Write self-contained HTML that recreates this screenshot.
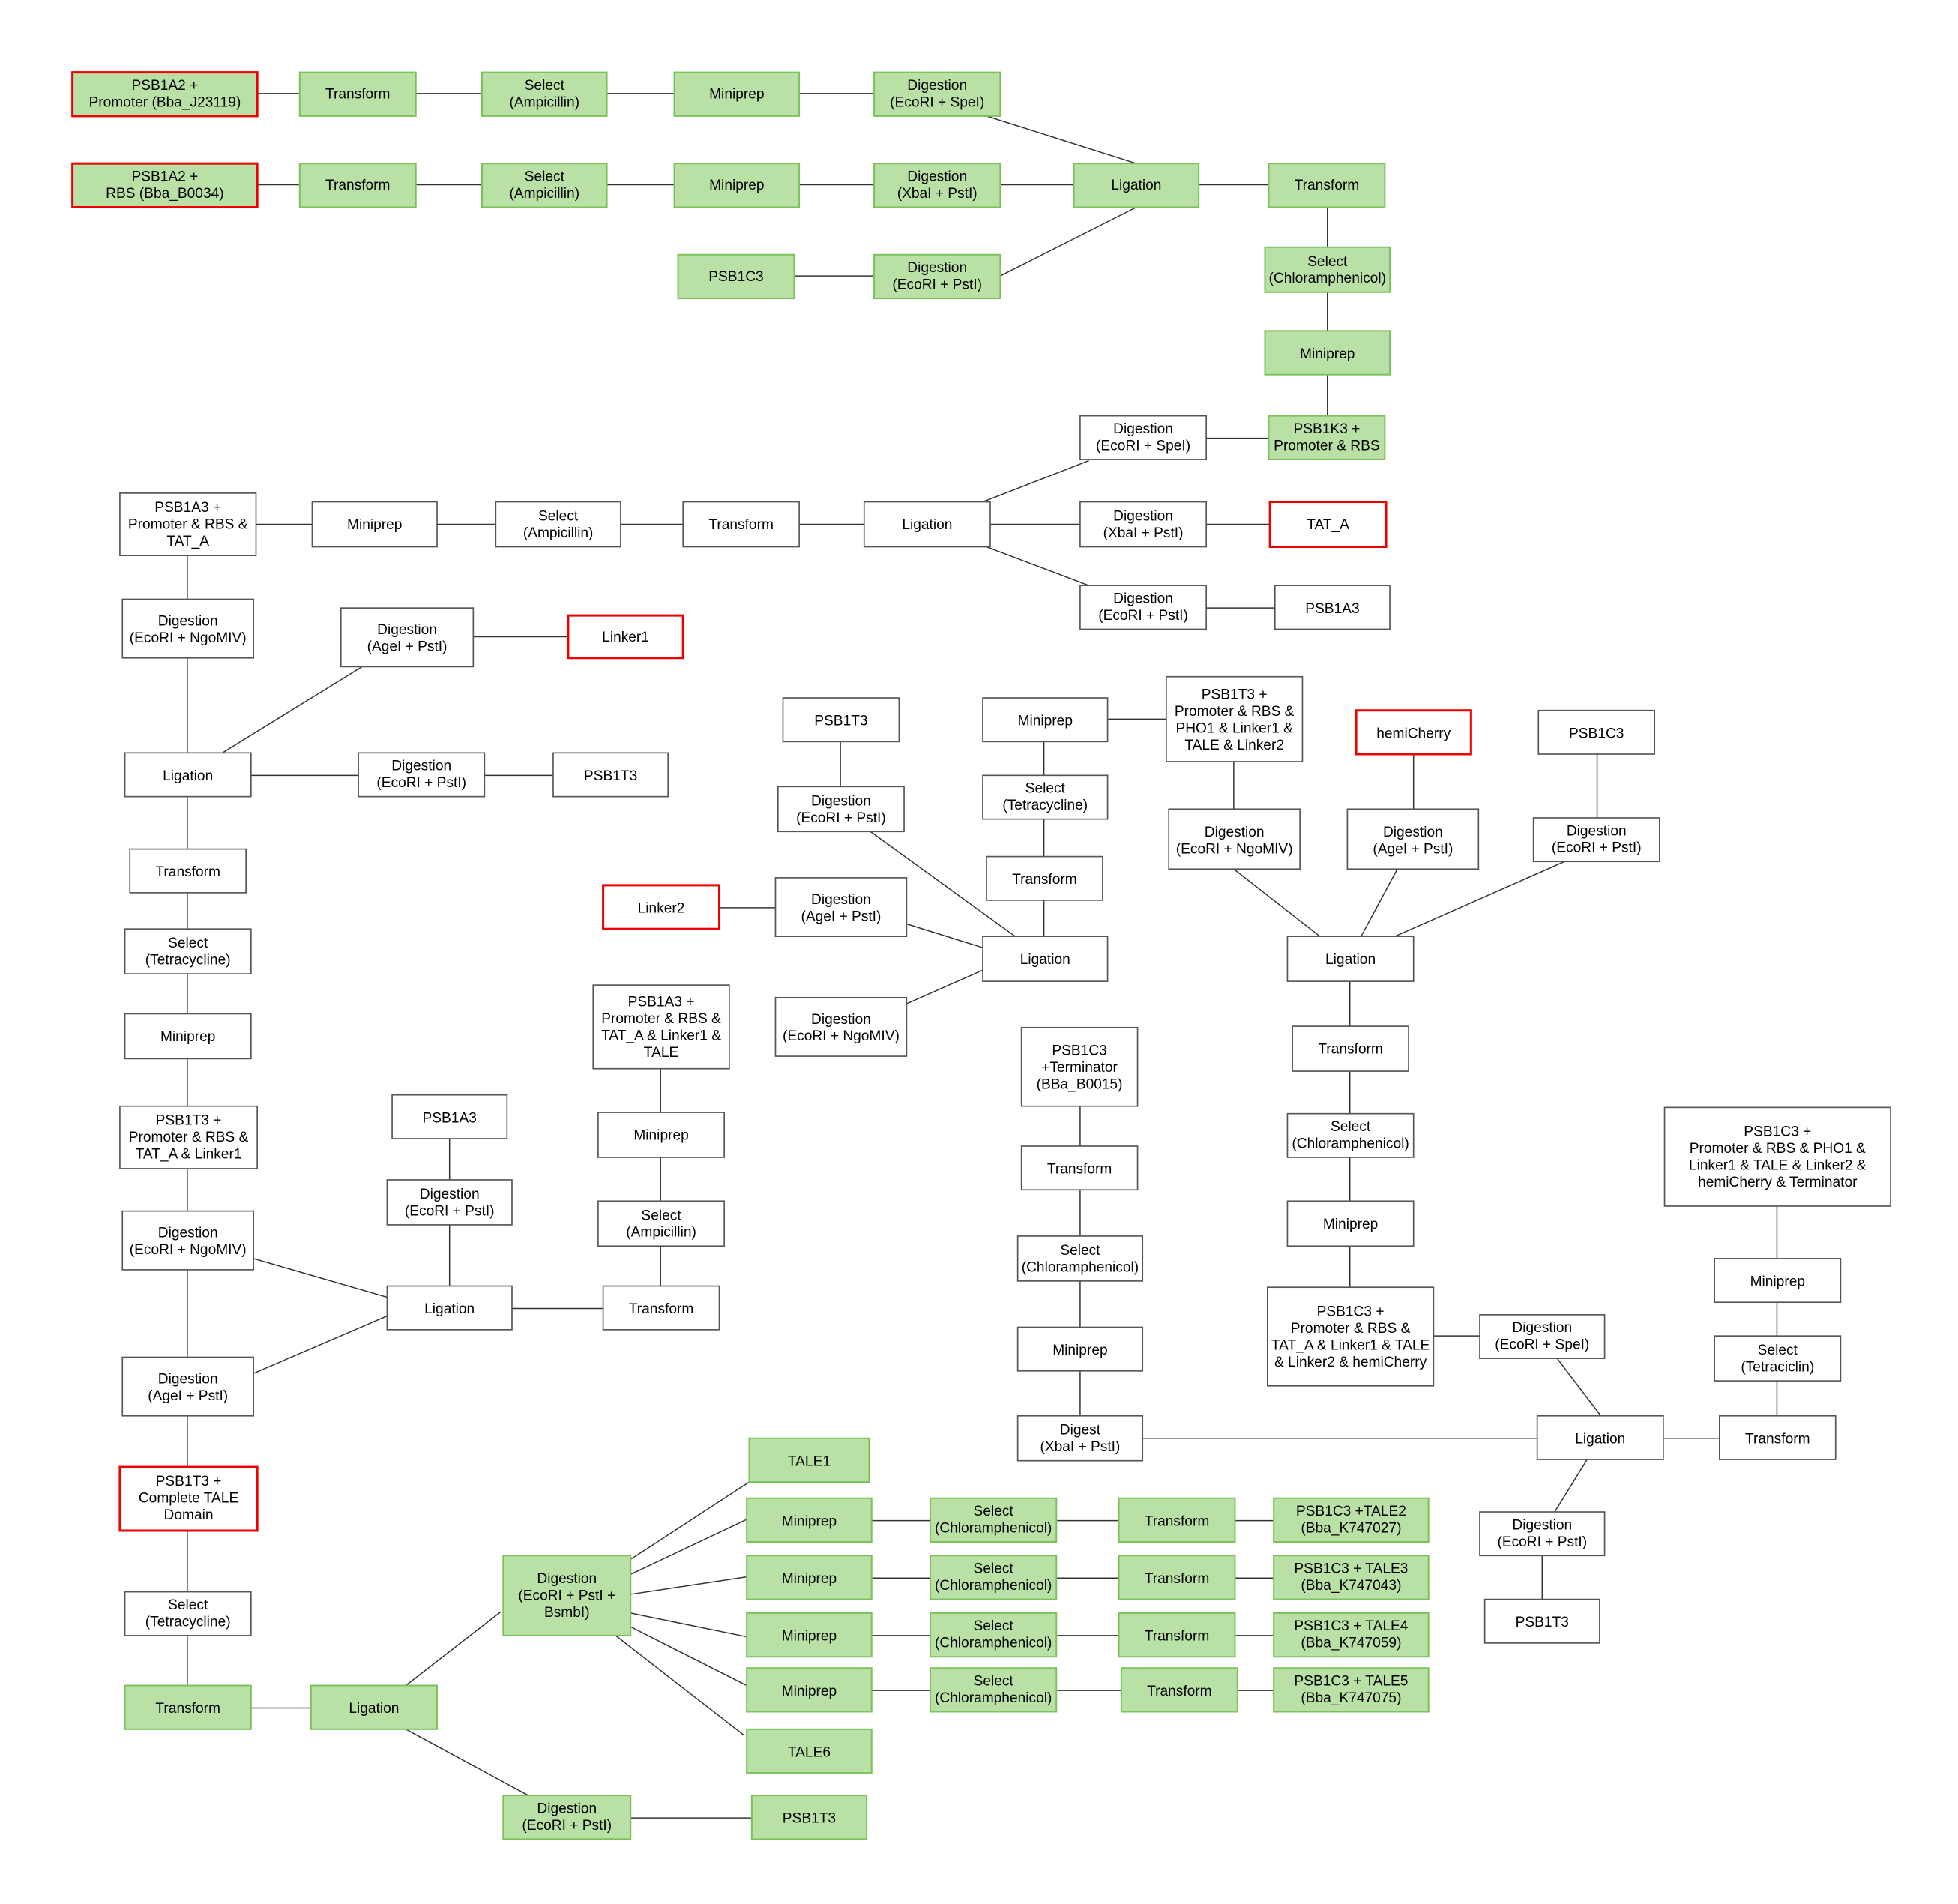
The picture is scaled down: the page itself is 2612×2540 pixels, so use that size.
<!DOCTYPE html>
<html><head><meta charset="utf-8"><style>
html,body{margin:0;padding:0;background:#fff;}
svg{display:block;}
.g{fill:#b9e0a5;stroke:#7cc15c;stroke-width:1.2}
.w{fill:#fff;stroke:#555;stroke-width:1}
.rg{fill:#b9e0a5;stroke:#e00;stroke-width:1.8}
.rw{fill:#fff;stroke:#e00;stroke-width:1.8}
text{font-family:"Liberation Sans",Arial,sans-serif;font-size:11.5px;fill:#000;text-anchor:middle}
line,polyline{stroke:#333;stroke-width:0.9;fill:none}
</style></head><body>
<svg width="2612" height="2540" viewBox="0 0 1568 1525" preserveAspectRatio="none" xmlns="http://www.w3.org/2000/svg">
<rect width="1568" height="1525" fill="#fff"/>
<g>
<line x1="206" y1="75" x2="700" y2="75"/>
<line x1="206" y1="148" x2="1016" y2="148"/>
<line x1="636" y1="221" x2="700" y2="221"/>
<line x1="790" y1="93" x2="910" y2="131"/>
<line x1="801" y1="221" x2="910" y2="166"/>
<line x1="1063" y1="166" x2="1063" y2="333"/>
<line x1="966" y1="351" x2="1016" y2="351"/>
<line x1="966" y1="420" x2="1017" y2="420"/>
<line x1="966" y1="487" x2="1021" y2="487"/>
<line x1="787" y1="402" x2="872" y2="369"/>
<line x1="790" y1="438" x2="872" y2="469"/>
<line x1="205" y1="420" x2="865" y2="420"/>
<line x1="150" y1="445" x2="150" y2="1087"/>
<line x1="379" y1="510" x2="455" y2="510"/>
<line x1="178" y1="603" x2="290" y2="534"/>
<line x1="201" y1="621" x2="443" y2="621"/>
<line x1="150" y1="1134" x2="150" y2="1350"/>
<line x1="201" y1="1368" x2="249" y2="1368"/>
<line x1="360" y1="912" x2="360" y2="1030"/>
<line x1="203" y1="1008" x2="310" y2="1039"/>
<line x1="203" y1="1100" x2="310" y2="1054"/>
<line x1="410" y1="1048" x2="483" y2="1048"/>
<line x1="529" y1="856" x2="529" y2="1030"/>
<line x1="673" y1="594" x2="673" y2="630"/>
<line x1="697" y1="666" x2="813" y2="750"/>
<line x1="576" y1="727" x2="621" y2="727"/>
<line x1="726" y1="740" x2="787" y2="759"/>
<line x1="726" y1="804" x2="787" y2="777"/>
<line x1="836" y1="594" x2="836" y2="750"/>
<line x1="887" y1="576" x2="934" y2="576"/>
<line x1="988" y1="610" x2="988" y2="648"/>
<line x1="1132" y1="604" x2="1132" y2="648"/>
<line x1="1279" y1="604" x2="1279" y2="655"/>
<line x1="988" y1="696" x2="1057" y2="750"/>
<line x1="1119" y1="696" x2="1090" y2="750"/>
<line x1="1253" y1="690" x2="1117" y2="750"/>
<line x1="1081" y1="786" x2="1081" y2="1031"/>
<line x1="1148" y1="1070" x2="1185" y2="1070"/>
<line x1="1423" y1="966" x2="1423" y2="1134"/>
<line x1="1332" y1="1152" x2="1377" y2="1152"/>
<line x1="1247" y1="1088" x2="1282" y2="1134"/>
<line x1="1271" y1="1169" x2="1245" y2="1211"/>
<line x1="1235" y1="1246" x2="1235" y2="1281"/>
<line x1="915" y1="1152" x2="1231" y2="1152"/>
<line x1="865" y1="886" x2="865" y2="1134"/>
<line x1="325" y1="1350" x2="401" y2="1291"/>
<line x1="325" y1="1385" x2="423" y2="1438"/>
<line x1="505" y1="1456" x2="602" y2="1456"/>
<line x1="505" y1="1249" x2="600" y2="1187"/>
<line x1="505" y1="1261" x2="598" y2="1217"/>
<line x1="505" y1="1277" x2="598" y2="1263"/>
<line x1="505" y1="1292" x2="598" y2="1311"/>
<line x1="505" y1="1303" x2="598" y2="1350"/>
<line x1="493" y1="1310" x2="596" y2="1390"/>
<line x1="698" y1="1218" x2="1020" y2="1218"/>
<line x1="698" y1="1264" x2="1020" y2="1264"/>
<line x1="698" y1="1310" x2="1020" y2="1310"/>
<line x1="698" y1="1354" x2="1020" y2="1354"/>
</g>
<rect class="rg" x="58" y="58" width="148" height="35"/><text x="132" y="72">PSB1A2 +<tspan x="132" dy="13.5">Promoter (Bba_J23119)</tspan></text>
<rect class="g" x="240" y="58" width="93" height="35"/><text x="286.5" y="79">Transform</text>
<rect class="g" x="386" y="58" width="100" height="35"/><text x="436" y="72">Select<tspan x="436" dy="13.5">(Ampicillin)</tspan></text>
<rect class="g" x="540" y="58" width="100" height="35"/><text x="590" y="79">Miniprep</text>
<rect class="g" x="700" y="58" width="101" height="35"/><text x="750.5" y="72">Digestion<tspan x="750.5" dy="13.5">(EcoRI + SpeI)</tspan></text>
<rect class="rg" x="58" y="131" width="148" height="35"/><text x="132" y="145">PSB1A2 +<tspan x="132" dy="13.5">RBS (Bba_B0034)</tspan></text>
<rect class="g" x="240" y="131" width="93" height="35"/><text x="286.5" y="152">Transform</text>
<rect class="g" x="386" y="131" width="100" height="35"/><text x="436" y="145">Select<tspan x="436" dy="13.5">(Ampicillin)</tspan></text>
<rect class="g" x="540" y="131" width="100" height="35"/><text x="590" y="152">Miniprep</text>
<rect class="g" x="700" y="131" width="101" height="35"/><text x="750.5" y="145">Digestion<tspan x="750.5" dy="13.5">(XbaI + PstI)</tspan></text>
<rect class="g" x="860" y="131" width="100" height="35"/><text x="910" y="152">Ligation</text>
<rect class="g" x="1016" y="131" width="93" height="35"/><text x="1062.5" y="152">Transform</text>
<rect class="g" x="543" y="204" width="93" height="35"/><text x="589.5" y="225">PSB1C3</text>
<rect class="g" x="700" y="204" width="101" height="35"/><text x="750.5" y="218">Digestion<tspan x="750.5" dy="13.5">(EcoRI + PstI)</tspan></text>
<rect class="g" x="1013" y="198" width="100" height="36"/><text x="1063" y="213">Select<tspan x="1063" dy="13.5">(Chloramphenicol)</tspan></text>
<rect class="g" x="1013" y="265" width="100" height="35"/><text x="1063" y="287">Miniprep</text>
<rect class="g" x="1016" y="333" width="93" height="35"/><text x="1062.5" y="347">PSB1K3 +<tspan x="1062.5" dy="13.5">Promoter &amp; RBS</tspan></text>
<rect class="w" x="865" y="333" width="101" height="35"/><text x="915.5" y="347">Digestion<tspan x="915.5" dy="13.5">(EcoRI + SpeI)</tspan></text>
<rect class="w" x="865" y="402" width="101" height="36"/><text x="915.5" y="417">Digestion<tspan x="915.5" dy="13.5">(XbaI + PstI)</tspan></text>
<rect class="w" x="865" y="469" width="101" height="35"/><text x="915.5" y="483">Digestion<tspan x="915.5" dy="13.5">(EcoRI + PstI)</tspan></text>
<rect class="rw" x="1017" y="402" width="93" height="36"/><text x="1063.5" y="424">TAT_A</text>
<rect class="w" x="1021" y="469" width="92" height="35"/><text x="1067" y="491">PSB1A3</text>
<rect class="w" x="692" y="402" width="101" height="36"/><text x="742.5" y="424">Ligation</text>
<rect class="w" x="547" y="402" width="93" height="36"/><text x="593.5" y="424">Transform</text>
<rect class="w" x="397" y="402" width="100" height="36"/><text x="447" y="417">Select<tspan x="447" dy="13.5">(Ampicillin)</tspan></text>
<rect class="w" x="250" y="402" width="100" height="36"/><text x="300" y="424">Miniprep</text>
<rect class="w" x="96" y="395" width="109" height="50"/><text x="150.5" y="410">PSB1A3 +<tspan x="150.5" dy="13.5">Promoter &amp; RBS &amp;</tspan><tspan x="150.5" dy="13.5">TAT_A</tspan></text>
<rect class="w" x="98" y="480" width="105" height="47"/><text x="150.5" y="501">Digestion<tspan x="150.5" dy="13.5">(EcoRI + NgoMIV)</tspan></text>
<rect class="w" x="273" y="487" width="106" height="47"/><text x="326" y="508">Digestion<tspan x="326" dy="13.5">(AgeI + PstI)</tspan></text>
<rect class="rw" x="455" y="493" width="92" height="34"/><text x="501" y="514">Linker1</text>
<rect class="w" x="100" y="603" width="101" height="35"/><text x="150.5" y="625">Ligation</text>
<rect class="w" x="287" y="603" width="101" height="35"/><text x="337.5" y="617">Digestion<tspan x="337.5" dy="13.5">(EcoRI + PstI)</tspan></text>
<rect class="w" x="443" y="603" width="92" height="35"/><text x="489" y="625">PSB1T3</text>
<rect class="w" x="104" y="680" width="93" height="35"/><text x="150.5" y="702">Transform</text>
<rect class="w" x="100" y="744" width="101" height="36"/><text x="150.5" y="759">Select<tspan x="150.5" dy="13.5">(Tetracycline)</tspan></text>
<rect class="w" x="100" y="812" width="101" height="36"/><text x="150.5" y="834">Miniprep</text>
<rect class="w" x="96" y="886" width="110" height="50"/><text x="151" y="901">PSB1T3 +<tspan x="151" dy="13.5">Promoter &amp; RBS &amp;</tspan><tspan x="151" dy="13.5">TAT_A &amp; Linker1</tspan></text>
<rect class="w" x="98" y="970" width="105" height="47"/><text x="150.5" y="991">Digestion<tspan x="150.5" dy="13.5">(EcoRI + NgoMIV)</tspan></text>
<rect class="w" x="98" y="1087" width="105" height="47"/><text x="150.5" y="1108">Digestion<tspan x="150.5" dy="13.5">(AgeI + PstI)</tspan></text>
<rect class="rw" x="96" y="1175" width="110" height="51"/><text x="151" y="1190">PSB1T3 +<tspan x="151" dy="13.5">Complete TALE</tspan><tspan x="151" dy="13.5">Domain</tspan></text>
<rect class="w" x="100" y="1275" width="101" height="35"/><text x="150.5" y="1289">Select<tspan x="150.5" dy="13.5">(Tetracycline)</tspan></text>
<rect class="g" x="100" y="1350" width="101" height="35"/><text x="150.5" y="1372">Transform</text>
<rect class="g" x="249" y="1350" width="101" height="35"/><text x="299.5" y="1372">Ligation</text>
<rect class="w" x="314" y="877" width="92" height="35"/><text x="360" y="899">PSB1A3</text>
<rect class="w" x="310" y="945" width="100" height="36"/><text x="360" y="960">Digestion<tspan x="360" dy="13.5">(EcoRI + PstI)</tspan></text>
<rect class="w" x="310" y="1030" width="100" height="35"/><text x="360" y="1052">Ligation</text>
<rect class="w" x="483" y="1030" width="93" height="35"/><text x="529.5" y="1052">Transform</text>
<rect class="w" x="479" y="962" width="101" height="36"/><text x="529.5" y="977">Select<tspan x="529.5" dy="13.5">(Ampicillin)</tspan></text>
<rect class="w" x="479" y="891" width="101" height="36"/><text x="529.5" y="913">Miniprep</text>
<rect class="w" x="475" y="789" width="109" height="67"/><text x="529.5" y="806">PSB1A3 +<tspan x="529.5" dy="13.5">Promoter &amp; RBS &amp;</tspan><tspan x="529.5" dy="13.5">TAT_A &amp; Linker1 &amp;</tspan><tspan x="529.5" dy="13.5">TALE</tspan></text>
<rect class="w" x="627" y="559" width="93" height="35"/><text x="673.5" y="581">PSB1T3</text>
<rect class="w" x="623" y="630" width="101" height="36"/><text x="673.5" y="645">Digestion<tspan x="673.5" dy="13.5">(EcoRI + PstI)</tspan></text>
<rect class="rw" x="483" y="709" width="93" height="35"/><text x="529.5" y="731">Linker2</text>
<rect class="w" x="621" y="703" width="105" height="47"/><text x="673.5" y="724">Digestion<tspan x="673.5" dy="13.5">(AgeI + PstI)</tspan></text>
<rect class="w" x="621" y="799" width="105" height="47"/><text x="673.5" y="820">Digestion<tspan x="673.5" dy="13.5">(EcoRI + NgoMIV)</tspan></text>
<rect class="w" x="787" y="750" width="100" height="36"/><text x="837" y="772">Ligation</text>
<rect class="w" x="790" y="686" width="93" height="35"/><text x="836.5" y="708">Transform</text>
<rect class="w" x="787" y="621" width="100" height="35"/><text x="837" y="635">Select<tspan x="837" dy="13.5">(Tetracycline)</tspan></text>
<rect class="w" x="787" y="559" width="100" height="35"/><text x="837" y="581">Miniprep</text>
<rect class="w" x="934" y="542" width="109" height="68"/><text x="988.5" y="560">PSB1T3 +<tspan x="988.5" dy="13.5">Promoter &amp; RBS &amp;</tspan><tspan x="988.5" dy="13.5">PHO1 &amp; Linker1 &amp;</tspan><tspan x="988.5" dy="13.5">TALE &amp; Linker2</tspan></text>
<rect class="rw" x="1086" y="569" width="92" height="35"/><text x="1132" y="591">hemiCherry</text>
<rect class="w" x="1232" y="569" width="93" height="35"/><text x="1278.5" y="591">PSB1C3</text>
<rect class="w" x="936" y="648" width="105" height="48"/><text x="988.5" y="670">Digestion<tspan x="988.5" dy="13.5">(EcoRI + NgoMIV)</tspan></text>
<rect class="w" x="1079" y="648" width="105" height="48"/><text x="1131.5" y="670">Digestion<tspan x="1131.5" dy="13.5">(AgeI + PstI)</tspan></text>
<rect class="w" x="1228" y="655" width="101" height="35"/><text x="1278.5" y="669">Digestion<tspan x="1278.5" dy="13.5">(EcoRI + PstI)</tspan></text>
<rect class="w" x="1031" y="750" width="101" height="36"/><text x="1081.5" y="772">Ligation</text>
<rect class="w" x="1035" y="822" width="93" height="36"/><text x="1081.5" y="844">Transform</text>
<rect class="w" x="1031" y="892" width="101" height="35"/><text x="1081.5" y="906">Select<tspan x="1081.5" dy="13.5">(Chloramphenicol)</tspan></text>
<rect class="w" x="1031" y="962" width="101" height="36"/><text x="1081.5" y="984">Miniprep</text>
<rect class="w" x="1015" y="1031" width="133" height="79"/><text x="1081.5" y="1054">PSB1C3 +<tspan x="1081.5" dy="13.5">Promoter &amp; RBS &amp;</tspan><tspan x="1081.5" dy="13.5">TAT_A &amp; Linker1 &amp; TALE</tspan><tspan x="1081.5" dy="13.5">&amp; Linker2 &amp; hemiCherry</tspan></text>
<rect class="w" x="1333" y="887" width="181" height="79"/><text x="1423.5" y="910">PSB1C3 +<tspan x="1423.5" dy="13.5">Promoter &amp; RBS &amp; PHO1 &amp;</tspan><tspan x="1423.5" dy="13.5">Linker1 &amp; TALE &amp; Linker2 &amp;</tspan><tspan x="1423.5" dy="13.5">hemiCherry &amp; Terminator</tspan></text>
<rect class="w" x="1373" y="1008" width="101" height="35"/><text x="1423.5" y="1030">Miniprep</text>
<rect class="w" x="1373" y="1070" width="101" height="36"/><text x="1423.5" y="1085">Select<tspan x="1423.5" dy="13.5">(Tetraciclin)</tspan></text>
<rect class="w" x="1377" y="1134" width="93" height="35"/><text x="1423.5" y="1156">Transform</text>
<rect class="w" x="1231" y="1134" width="101" height="35"/><text x="1281.5" y="1156">Ligation</text>
<rect class="w" x="1185" y="1053" width="100" height="35"/><text x="1235" y="1067">Digestion<tspan x="1235" dy="13.5">(EcoRI + SpeI)</tspan></text>
<rect class="w" x="1185" y="1211" width="100" height="35"/><text x="1235" y="1225">Digestion<tspan x="1235" dy="13.5">(EcoRI + PstI)</tspan></text>
<rect class="w" x="1189" y="1281" width="92" height="35"/><text x="1235" y="1303">PSB1T3</text>
<rect class="w" x="818" y="823" width="93" height="63"/><text x="864.5" y="845">PSB1C3<tspan x="864.5" dy="13.5">+Terminator</tspan><tspan x="864.5" dy="13.5">(BBa_B0015)</tspan></text>
<rect class="w" x="818" y="918" width="93" height="35"/><text x="864.5" y="940">Transform</text>
<rect class="w" x="815" y="990" width="100" height="36"/><text x="865" y="1005">Select<tspan x="865" dy="13.5">(Chloramphenicol)</tspan></text>
<rect class="w" x="815" y="1063" width="100" height="35"/><text x="865" y="1085">Miniprep</text>
<rect class="w" x="815" y="1134" width="100" height="36"/><text x="865" y="1149">Digest<tspan x="865" dy="13.5">(XbaI + PstI)</tspan></text>
<rect class="g" x="403" y="1246" width="102" height="64"/><text x="454" y="1268">Digestion<tspan x="454" dy="13.5">(EcoRI + PstI +</tspan><tspan x="454" dy="13.5">BsmbI)</tspan></text>
<rect class="g" x="403" y="1438" width="102" height="35"/><text x="454" y="1452">Digestion<tspan x="454" dy="13.5">(EcoRI + PstI)</tspan></text>
<rect class="g" x="602" y="1438" width="92" height="35"/><text x="648" y="1460">PSB1T3</text>
<rect class="g" x="600" y="1152" width="96" height="35"/><text x="648" y="1174">TALE1</text>
<rect class="g" x="598" y="1385" width="100" height="35"/><text x="648" y="1407">TALE6</text>
<rect class="g" x="598" y="1200" width="100" height="35"/><text x="648" y="1222">Miniprep</text>
<rect class="g" x="598" y="1246" width="100" height="35"/><text x="648" y="1268">Miniprep</text>
<rect class="g" x="598" y="1292" width="100" height="35"/><text x="648" y="1314">Miniprep</text>
<rect class="g" x="598" y="1336" width="100" height="35"/><text x="648" y="1358">Miniprep</text>
<rect class="g" x="745" y="1200" width="101" height="35"/><text x="795.5" y="1214">Select<tspan x="795.5" dy="13.5">(Chloramphenicol)</tspan></text>
<rect class="g" x="745" y="1246" width="101" height="35"/><text x="795.5" y="1260">Select<tspan x="795.5" dy="13.5">(Chloramphenicol)</tspan></text>
<rect class="g" x="745" y="1292" width="101" height="35"/><text x="795.5" y="1306">Select<tspan x="795.5" dy="13.5">(Chloramphenicol)</tspan></text>
<rect class="g" x="745" y="1336" width="101" height="35"/><text x="795.5" y="1350">Select<tspan x="795.5" dy="13.5">(Chloramphenicol)</tspan></text>
<rect class="g" x="896" y="1200" width="93" height="35"/><text x="942.5" y="1222">Transform</text>
<rect class="g" x="896" y="1246" width="93" height="35"/><text x="942.5" y="1268">Transform</text>
<rect class="g" x="896" y="1292" width="93" height="35"/><text x="942.5" y="1314">Transform</text>
<rect class="g" x="898" y="1336" width="93" height="35"/><text x="944.5" y="1358">Transform</text>
<rect class="g" x="1020" y="1200" width="124" height="35"/><text x="1082" y="1214">PSB1C3 +TALE2<tspan x="1082" dy="13.5">(Bba_K747027)</tspan></text>
<rect class="g" x="1020" y="1246" width="124" height="35"/><text x="1082" y="1260">PSB1C3 + TALE3<tspan x="1082" dy="13.5">(Bba_K747043)</tspan></text>
<rect class="g" x="1020" y="1292" width="124" height="35"/><text x="1082" y="1306">PSB1C3 + TALE4<tspan x="1082" dy="13.5">(Bba_K747059)</tspan></text>
<rect class="g" x="1020" y="1336" width="124" height="35"/><text x="1082" y="1350">PSB1C3 + TALE5<tspan x="1082" dy="13.5">(Bba_K747075)</tspan></text>
</svg>
</body></html>
